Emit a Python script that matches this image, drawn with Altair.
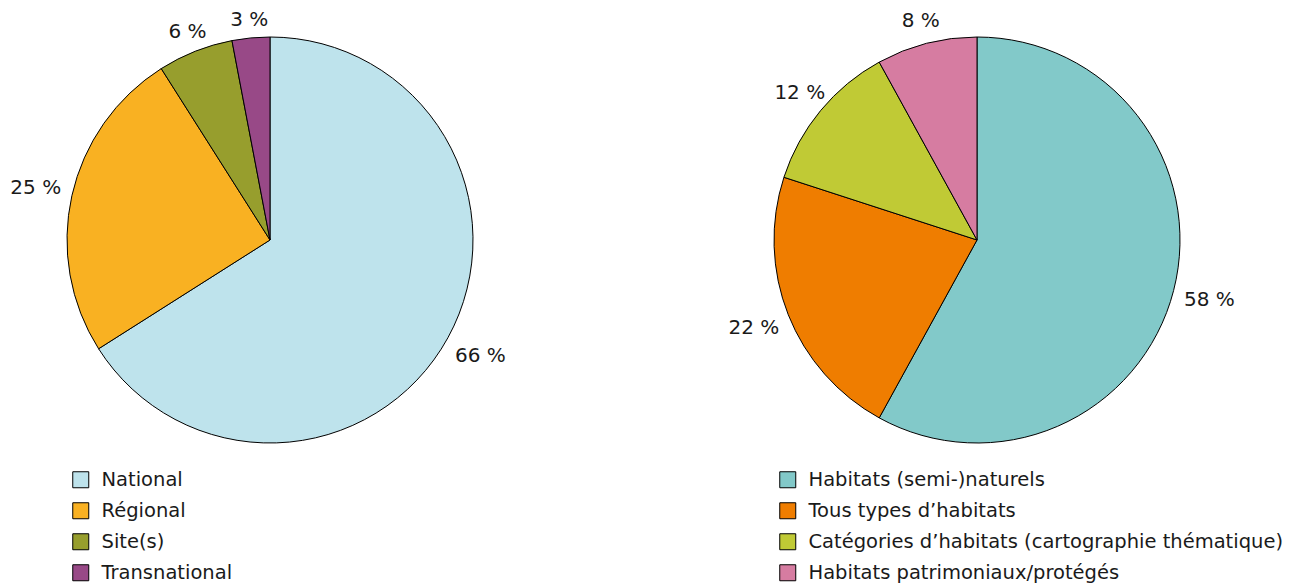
import altair as alt
import pandas as pd

left_cats = ["National", "Régional", "Site(s)", "Transnational"]
left_vals = [66, 25, 6, 3]
left_colors = ["#bee3ec", "#f9b122", "#979e2d", "#984987"]

right_cats = ["Habitats (semi-)naturels", "Tous types d’habitats",
              "Catégories d’habitats (cartographie thématique)",
              "Habitats patrimoniaux/protégés"]
right_vals = [58, 22, 12, 8]
right_colors = ["#82c9c9", "#ef7d00", "#c0ca35", "#d67ca1"]

FONT = "DejaVu Sans"


def pie(cats, vals, colors):
    df = pd.DataFrame({
        "cat": cats,
        "val": vals,
        "idx": list(range(len(cats))),
        "label": [f"{v} %" for v in vals],
    })
    base = alt.Chart(df).encode(
        theta=alt.Theta("val:Q", stack=True),
        order=alt.Order("idx:Q"),
    )
    arc = base.mark_arc(outerRadius=203, stroke="black", strokeWidth=1).encode(
        color=alt.Color(
            "cat:N",
            sort=cats,
            scale=alt.Scale(domain=cats, range=colors),
            legend=alt.Legend(
                title=None,
                orient="none",
                legendX=63,
                legendY=462,
                symbolType="square",
                symbolSize=256,
                symbolStrokeColor="black",
                symbolStrokeWidth=1,
                labelFontSize=19.5,
                labelFont=FONT,
                labelColor="#1a1a1a",
                labelOffset=11,
                labelLimit=1000,
                rowPadding=10,
            ),
        )
    )
    # small slices (near the top) get their labels closer, large ones farther out
    text = base.mark_text(fontSize=20, font=FONT, color="#1a1a1a").encode(
        text="label:N",
        radius=alt.Radius("val:Q", scale=alt.Scale(domain=[3, 22], range=[221, 240], clamp=True)),
    )
    return (arc + text).properties(width=524, height=464)


chart = alt.hconcat(
    pie(left_cats, left_vals, left_colors),
    pie(right_cats, right_vals, right_colors),
    spacing=183,
).resolve_scale(color="independent").resolve_legend(color="independent").properties(
    padding=0
).configure_view(stroke=None)

chart.save("out.html", embed_options={"renderer": "svg", "actions": False})
